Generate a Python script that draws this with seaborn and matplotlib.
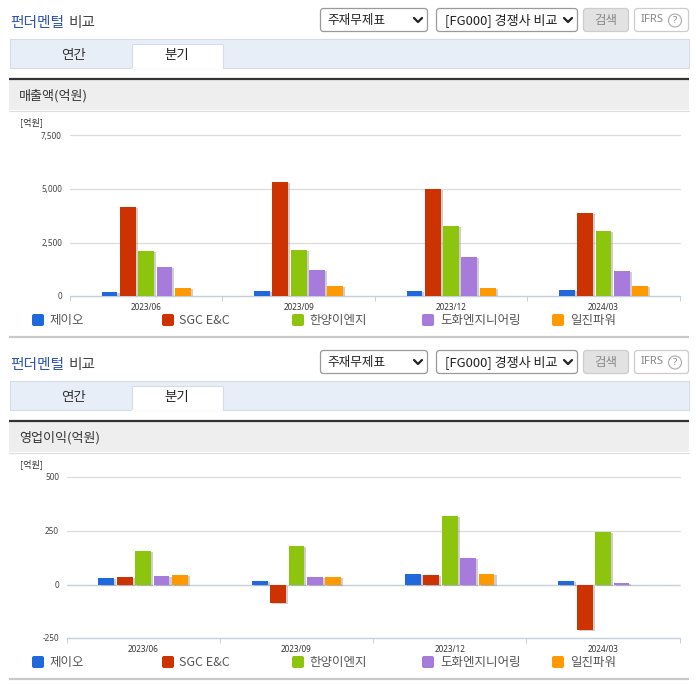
import matplotlib
matplotlib.use("Agg")
import matplotlib.pyplot as plt
import matplotlib.patheffects as pe
from matplotlib.patches import Rectangle, FancyBboxPatch, Circle
import pandas as pd
import seaborn as sns

periods = ["2023/06", "2023/09", "2023/12", "2024/03"]
companies = ["제이오", "SGC E&C", "한양이엔지", "도화엔지니어링", "일진파워"]
colors = ["#1f69dc", "#cc3300", "#8cc40e", "#a77bdb", "#ff9900"]

sales_jeio = [215, 260, 260, 310]
sales_sgc = [4180, 5345, 5015, 3895]
sales_hanyang = [2125, 2170, 3290, 3055]
sales_dohwa = [1380, 1240, 1845, 1190]
sales_iljin = [400, 480, 400, 480]

profit_jeio = [31, 17, 49, 17]
profit_sgc = [35, -85, 45, -211]
profit_hanyang = [156, 180, 318, 244]
profit_dohwa = [40, 35, 123, 8]
profit_iljin = [45, 35, 49, None]

sales_ticks = [0, 2500, 5000, 7500]
profit_ticks = [-250, 0, 250, 500]

sns.set_theme(style="white")
plt.rcParams["font.family"] = ["Noto Sans CJK KR", "DejaVu Sans"]

W, H = 696, 684
fig = plt.figure(figsize=(W / 100, H / 100), dpi=100, facecolor="white")
bg = fig.add_axes([0, 0, 1, 1], zorder=0)
bg.set_xlim(0, W)
bg.set_ylim(H, 0)
bg.axis("off")
TXT = "#333333"


def box(x0, y0, x1, y1, fc, ec="none", lw=0.8, rad=0):
    if rad:
        p = FancyBboxPatch((x0 + rad, y0 + rad), x1 - x0 - 2 * rad, y1 - y0 - 2 * rad,
                           boxstyle=f"round,pad={rad},rounding_size={rad}", fc=fc, ec=ec, lw=lw)
    else:
        p = Rectangle((x0, y0), x1 - x0, y1 - y0, fc=fc, ec=ec, lw=lw)
    bg.add_patch(p)


def chevron(x, y):
    bg.plot([x - 4, x, x + 4], [y - 2, y + 2, y - 2], color="#222222", lw=1.6, solid_capstyle="round")


def chrome(o, heading):
    bg.text(10, o + 23.5, "펀더멘털", color="#2f55b0", fontsize=10.6, fontweight="medium", va="center")
    bg.text(69, o + 23.5, "비교", color="#444444", fontsize=10.6, fontweight="medium", va="center")
    box(320.5, o + 8.5, 427.5, o + 31.5, "white", "#999999", 0.9, 3)
    bg.text(327, o + 20.5, "주재무제표", color="#222222", fontsize=9.1, va="center")
    chevron(418, o + 20)
    box(436.5, o + 8.5, 577.5, o + 31.5, "white", "#999999", 0.9, 3)
    bg.text(445, o + 20.5, "[FG000] 경쟁사 비교", color="#222222", fontsize=9.4, va="center")
    chevron(568, o + 20)
    box(583.5, o + 8.5, 628.5, o + 31.5, "#e2e2e2", "#cccccc", 0.9, 3)
    bg.text(606, o + 20.5, "검색", color="#888888", fontsize=9, va="center", ha="center")
    box(634.5, o + 8.5, 688.5, o + 31.5, "white", "#cccccc", 0.9, 3)
    bg.text(641, o + 20, "IFRS", color="#888888", fontsize=8.2, va="center", family="Noto Sans")
    bg.add_patch(Circle((675, o + 20.5), 6.5, fc="white", ec="#aaaaaa", lw=0.8))
    bg.text(675, o + 20.5, "?", color="#888888", fontsize=7, va="center", ha="center", family="Noto Sans")
    box(9.5, o + 38.5, 688.5, o + 67.5, "#e7eef8", "#d5dce6", 0.8)
    bg.text(74, o + 54.5, "연간", color=TXT, fontsize=9.7, va="center", ha="center")
    box(131.5, o + 43.5, 222.5, o + 68, "white", "#d5dce6", 0.8)
    bg.plot([132, 222], [o + 68, o + 68], color="white", lw=1)
    bg.text(177, o + 55, "분기", color="#222222", fontsize=9.7, va="center", ha="center")
    box(9, o + 80, 689, o + 110, "#eeeeee")
    bg.plot([9, 689], [o + 110.5, o + 110.5], color="#dddddd", lw=0.8)
    bg.plot([9, 689], [o + 79, o + 79], color="#333333", lw=1.6, solid_capstyle="butt")
    bg.text(19, o + 95.5, heading, color=TXT, fontsize=9.4, va="center")
    bg.text(20, o + 122.5, "[억원]", color=TXT, fontsize=6.6, va="center")
    for name, col, xs, xt in zip(companies, colors, [32, 162, 292, 422, 552], [49, 179, 309, 440, 570]):
        box(xs, o + 314, xs + 12, o + 326, col, rad=2)
        bg.text(xt, o + 320.5, name, color="#555555", fontsize=9, va="center")
    bg.plot([9, 689], [o + 337, o + 337], color="#c8c8c8", lw=1.6, solid_capstyle="butt")


def chart(rect, series, ticks, label_right):
    left, top, right, bottom = rect
    ax = fig.add_axes([left / W, 1 - bottom / H, (right - left) / W, (bottom - top) / H], zorder=2)
    ax.patch.set_alpha(0)
    df = pd.DataFrame({
        "period": [p for p in periods for _ in companies],
        "company": companies * len(periods),
        "value": [s[i] for i in range(len(periods)) for s in series],
    })
    sns.barplot(data=df, x="period", y="value", hue="company", order=periods, hue_order=companies,
                palette=colors, saturation=1, width=0.6, gap=0.14, legend=False, ax=ax, zorder=3,
                linewidth=0, edgecolor="none")
    for patch in ax.patches:
        patch.set_path_effects([pe.withSimplePatchShadow(offset=(1.5, -0.8), shadow_rgbFace="#888888", alpha=0.4)])
    ax.set_xlim(-0.5, 3.5)
    ax.set_ylim(ticks[0], ticks[-1])
    ax.set_xlabel("")
    ax.set_ylabel("")
    ax.set_yticks(ticks)
    ax.set_yticklabels([])
    ax.grid(axis="y", color="#dcdcdc", lw=0.9, zorder=0)
    for line in ax.get_ygridlines():
        line.set_clip_on(False)
    ax.set_axisbelow(True)
    if ticks[0] < 0:
        ax.axhline(0, color="#c4d0de", lw=0.9, zorder=1)
    for s in ["top", "left", "right"]:
        ax.spines[s].set_visible(False)
    ax.spines["bottom"].set_color("#c4d0de")
    ax.spines["bottom"].set_linewidth(0.9)
    ax.set_xticks(range(len(periods)))
    ax.set_xticklabels(periods, fontsize=5.9, color=TXT, family="Noto Sans")
    ax.set_xticks([i - 0.5 for i in range(len(periods) + 1)], minor=True)
    ax.tick_params(axis="x", which="major", length=0, pad=4.5)
    ax.tick_params(axis="x", which="minor", length=3.5, width=0.7, color="#c4d0de", bottom=True)
    ax.tick_params(axis="y", length=0)
    span = ticks[-1] - ticks[0]
    for t in ticks:
        y = bottom - (t - ticks[0]) / span * (bottom - top)
        bg.text(label_right, y + 0.5, f"{t:,}", color="#444444", fontsize=5.9, ha="right", va="center", family="Noto Sans")
    return ax


chrome(0, "매출액(억원)")
chrome(342, "영업이익(억원)")
chart((70, 135.5, 679.7, 296.3),
      [sales_jeio, sales_sgc, sales_hanyang, sales_dohwa, sales_iljin], sales_ticks, 62)
chart((66.5, 477.3, 679.7, 638.3),
      [profit_jeio, profit_sgc, profit_hanyang, profit_dohwa, profit_iljin], profit_ticks, 59)

fig.savefig("out.png", dpi=100)
